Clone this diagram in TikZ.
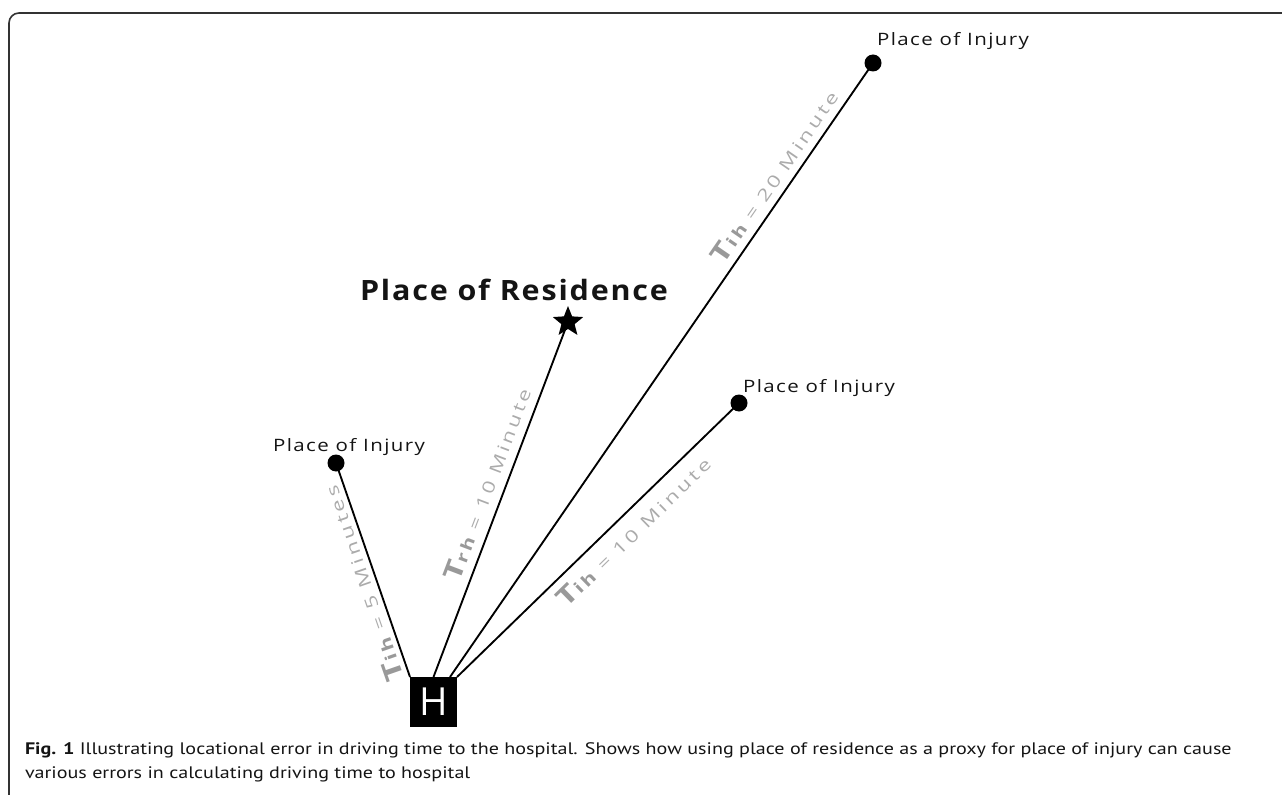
\documentclass[tikz,border=0pt]{standalone}
\usepackage{fontspec}
\usepackage{graphicx}
\setmainfont{Open Sans}
\newfontfamily\spaced[LetterSpace=15]{Open Sans}
\newfontfamily\placefont[LetterSpace=7]{Open Sans}
\newfontfamily\titlefont[LetterSpace=6]{Open Sans}
\newfontfamily\capfont{PT Sans}
\usetikzlibrary{shapes.geometric,calc}
\definecolor{lblgray}{HTML}{ABABAB}
\definecolor{tgray}{HTML}{999999}
\definecolor{framegray}{HTML}{333333}
\definecolor{txtdark}{HTML}{141414}
\newcommand{\tlab}[2]{\resizebox{153pt}{\height}{{\spaced\bfseries\fontsize{19}{19}\selectfont\color{tgray}T}{\spaced\bfseries\fontsize{12}{12}\selectfont\color{tgray}#1}{\spaced\fontsize{12.6}{12.6}\selectfont\color{lblgray}\ =\ #2}}}
\newcommand{\injlab}{\resizebox{114pt}{\height}{\placefont\fontsize{12.8}{12.8}\selectfont\color{txtdark}Place of Injury}}
\begin{document}
\begin{tikzpicture}[x=0.75pt,y=-0.75pt,
  every node/.style={inner sep=0pt, outer sep=0pt},
  dot/.style={circle, fill=black, minimum size=12.75pt},
  road/.style={line width=1.4pt, black},
  tlabel/.style={anchor=center},
  injury/.style={anchor=base west}]
\useasboundingbox (0,0) rectangle (1282,795);
% frame
\draw[framegray, line width=1.2pt, rounded corners=7.5pt] (9,800) -- (9,13) -- (1290,13);
% hospital
\node[fill=black, minimum width=35.25pt, minimum height=37.5pt, text=white, font=\fontsize{29}{29}\selectfont] (H) at (433.5,702) {H};
\coordinate (h3) at ($(H.north east)+(-7,0)$);
% places
\node[dot] (i1) at (336,463) {};
\node[dot] (i2) at (873,63) {};
\node[dot] (i3) at (739,403) {};
\node[star, star points=5, star point ratio=2.3, fill=black, minimum size=24pt] (res) at (568,322) {};
% roads
\draw[road] (H.north west) -- (i1.center);
\draw[road] (H.north) -- (res.center);
\draw[road] (h3) -- (i2.center);
\draw[road] (H.north east) -- (i3.center);
% labels
\node[injury] (li1) at (273,451) {\injlab};
\node[injury] (li2) at (877,46) {\injlab};
\node[injury] (li3) at (743,392) {\injlab};
\node[anchor=base west] (restitle) at (360,300) {\resizebox{231pt}{\height}{\titlefont\bfseries\fontsize{21}{21}\selectfont\color{txtdark}Place of Residence}};
% time labels
\node[tlabel, rotate=109.2] (t1) at (362,584) {\tlab{ih}{5 Minutes}};
\node[tlabel, rotate=69.2] (t2) at (487,484) {\tlab{rh}{10 Minute}};
\node[tlabel, rotate=55.4] (t3) at (774,176) {\tlab{ih}{20 Minute}};
\node[tlabel, rotate=44.3] (t4) at (633,531) {\tlab{ih}{10 Minute}};
% caption
\node[anchor=base west] (cap) at (25,778) {\resizebox{905pt}{\height}{\capfont\fontsize{12.5}{18}\selectfont\color{txtdark}\begin{tabular}[b]{@{}l@{}}\textbf{Fig. 1} Illustrating locational error in driving time to the hospital. Shows how using place of residence as a proxy for place of injury can cause\\
various errors in calculating driving time to hospital\end{tabular}}};
\end{tikzpicture}
\end{document}
